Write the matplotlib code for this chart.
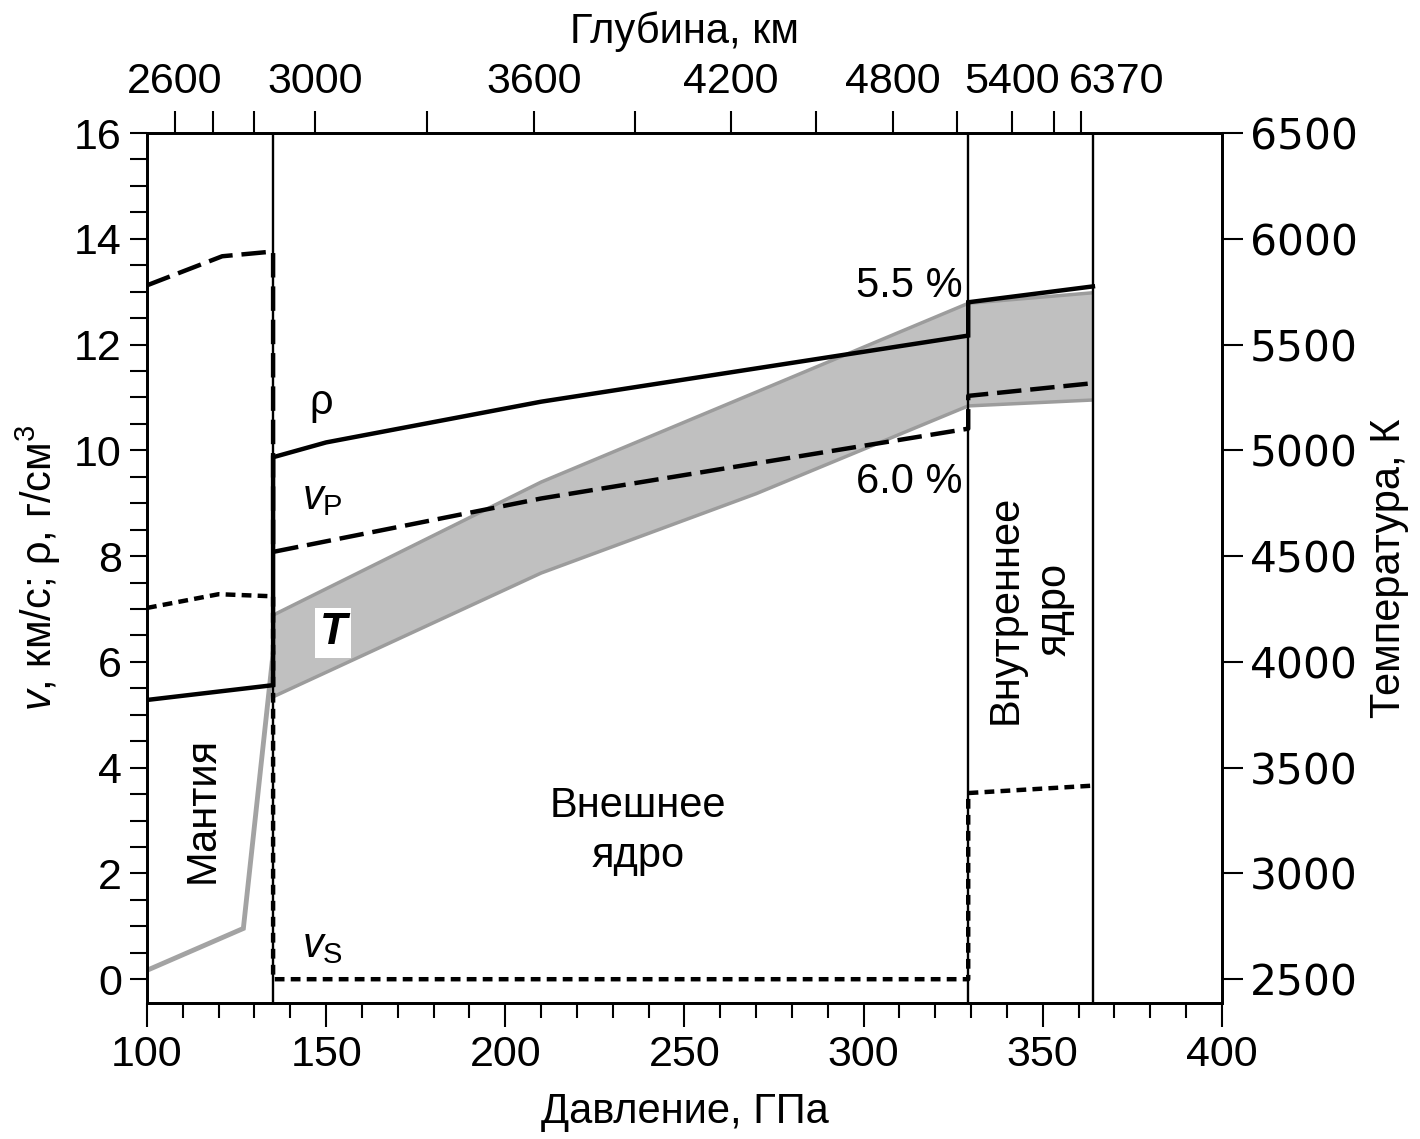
import matplotlib
matplotlib.use('Agg')
import matplotlib.pyplot as plt
from matplotlib.ticker import MultipleLocator
from matplotlib.transforms import ScaledTranslation
import numpy as np

plt.rcParams['font.family'] = ['Liberation Sans', 'DejaVu Sans']
plt.rcParams['mathtext.fontset'] = 'custom'
plt.rcParams['mathtext.rm'] = 'Liberation Sans'
plt.rcParams['mathtext.it'] = 'Liberation Sans:italic'
plt.rcParams['mathtext.bf'] = 'Liberation Sans:bold'

# ---------------- data ----------------
# boundaries (pressure, GPa): core-mantle, inner-core, Earth centre
boundaries = [135.2, 329.2, 364.0]

# mantle
mantle_vP_P = [100, 121, 135.2]
mantle_vP = [13.12, 13.67, 13.76]
mantle_vS_P = [100, 120, 135.2]
mantle_vS = [7.02, 7.28, 7.24]
mantle_rho_P = [100, 135.2]
mantle_rho = [5.28, 5.56]
mantle_T_P = [100, 126.9, 135.2]
mantle_T = [2542, 2740, 4040]

# outer core
outer_rho_P = [135.2, 150, 210, 329.2]
outer_rho = [9.87, 10.15, 10.92, 12.17]
outer_vP_P = [135.2, 210, 329.2]
outer_vP = [8.08, 9.09, 10.41]
outer_vS_P = [135.2, 329.2]
outer_vS = [0.0, 0.0]

# inner core
inner_P = [329.2, 364.0]
inner_rho = [12.80, 13.10]
inner_vP = [11.03, 11.27]
inner_vS = [3.52, 3.66]

# core temperature band (K)
core_T_P = [135.2, 210, 270, 329.2, 364.0]
core_T_hi = [4221, 4850, 5275, 5695, 5745]
core_T_lo = [3835, 4420, 4795, 5210, 5238]

# top axis: depth ticks (km) at pressure positions (GPa)
depth_tick_P = [107.7, 146.8, 208.0, 262.9, 308.1, 341.5, 360.8]
depth_tick_labels = ['2600', '3000', '3600', '4200', '4800', '5400', '6370']
depth_minor_P = [118.3, 130.0, 178.2, 236.3, 286.7, 326.2, 353.2]

# ---------------- figure ----------------
fig = plt.figure(figsize=(14.2, 11.39), dpi=100)
ax = fig.add_axes([0.1035, 0.1194, 0.757, 0.7638])
axT = ax.twinx()
ax.set_zorder(axT.get_zorder() + 1)
ax.patch.set_visible(False)

FS = 30
BLACK = 'black'

# temperature (right axis)
axT.fill_between(core_T_P, core_T_lo, core_T_hi, color='#c0c0c0', lw=0, zorder=1)
axT.plot(core_T_P, core_T_hi, color='#9c9c9c', lw=2.5, zorder=2, solid_capstyle='butt')
axT.plot(core_T_P, core_T_lo, color='#9c9c9c', lw=2.5, zorder=2, solid_capstyle='butt')
axT.plot(mantle_T_P, mantle_T, color='#a3a3a3', lw=3.5, zorder=2, solid_joinstyle='miter')
axT.set_ylim(2387.5, 6500)
axT.yaxis.set_major_locator(MultipleLocator(500))
axT.tick_params(axis='y', direction='out', length=15, width=1.5, pad=5)
for lbl in axT.get_yticklabels():
    lbl.set_fontfamily('DejaVu Sans')
    lbl.set_fontsize(30.5)
axT.set_ylabel('Температура, К', fontsize=FS, labelpad=8)

# boundaries
for b in boundaries:
    ax.axvline(b, color=BLACK, lw=1.7, zorder=3)

# rho (solid)
rho_P = np.concatenate([mantle_rho_P, outer_rho_P, inner_P])
rho = np.concatenate([mantle_rho, outer_rho, inner_rho])
ax.plot(rho_P, rho, color=BLACK, lw=3.2, zorder=4, solid_joinstyle='miter')

# vP (long dashes)
vP_P = np.concatenate([mantle_vP_P, outer_vP_P, inner_P])
vP = np.concatenate([mantle_vP, outer_vP, inner_vP])
ax.plot(vP_P, vP, color=BLACK, lw=3.2, dashes=(5.5, 2), zorder=4)

# vS (short dashes)
vS_P = np.concatenate([mantle_vS_P, outer_vS_P, inner_P])
vS = np.concatenate([mantle_vS, outer_vS, inner_vS])
ax.plot(vS_P, vS, color=BLACK, lw=3.2, dashes=(2.2, 1.4), zorder=4)

ax.set_xlim(100, 400)
ax.set_ylim(-0.45, 16)
ax.xaxis.set_major_locator(MultipleLocator(50))
ax.xaxis.set_minor_locator(MultipleLocator(10))
ax.yaxis.set_major_locator(MultipleLocator(2))
ax.yaxis.set_minor_locator(MultipleLocator(0.5))
ax.tick_params(axis='x', which='major', direction='out', length=17, width=1.5, pad=6, labelsize=31)
ax.tick_params(axis='x', which='minor', direction='out', length=11, width=1.5)
ax.tick_params(axis='y', which='both', direction='out', length=12, width=1.5, pad=6, labelsize=31)
ax.set_xlabel('Давление, ГПа', fontsize=FS, labelpad=12)
ax.set_ylabel('$v$, км/с; ρ, г/см$^3$', fontsize=FS, labelpad=8)

# top axis (depth)
axD = ax.twiny()
axD.set_xlim(ax.get_xlim())
axD.set_xticks(depth_tick_P, depth_tick_labels)
axD.set_xticks(depth_minor_P, minor=True)
axD.tick_params(axis='x', which='both', direction='out', length=16, width=1.5, pad=6, labelsize=31)
axD.set_xlabel('Глубина, км', fontsize=FS, labelpad=14)
for lbl in axD.get_xticklabels():
    if lbl.get_text() == '6370':
        lbl.set_transform(lbl.get_transform() + ScaledTranslation(25 / 72, 0, fig.dpi_scale_trans))

for a in (ax, axT, axD):
    for s in a.spines.values():
        s.set_linewidth(1.8)

# annotations
ax.text(148.5, 10.9, 'ρ', fontsize=FS, ha='center', va='center', zorder=6)
ax.text(149, 9.1, '$v_\\mathrm{P}$', fontsize=FS, ha='center', va='center', zorder=6)
ax.text(149, 0.62, '$v_\\mathrm{S}$', fontsize=FS, ha='center', va='center', zorder=6)
ax.text(152, 6.55, 'T', fontsize=32, fontstyle='italic', fontweight='bold',
        ha='center', va='center', zorder=6,
        bbox=dict(boxstyle='square,pad=0.1', fc='white', ec='none'))
ax.text(115.5, 3.2, 'Мантия', fontsize=FS, rotation=90, ha='center', va='center', zorder=6)
ax.text(237, 2.8, 'Внешнее\nядро', fontsize=FS, ha='center', va='center',
        multialignment='center', linespacing=1.3, zorder=6)
ax.text(346.5, 7.0, 'Внутреннее\nядро', fontsize=FS, rotation=90, ha='center', va='center',
        multialignment='center', linespacing=1.3, zorder=6)
ax.text(327.5, 13.1, '5.5 %', fontsize=FS, ha='right', va='center', zorder=6)
ax.text(327.5, 9.4, '6.0 %', fontsize=FS, ha='right', va='center', zorder=6)

fig.savefig('out.png', dpi=100)
